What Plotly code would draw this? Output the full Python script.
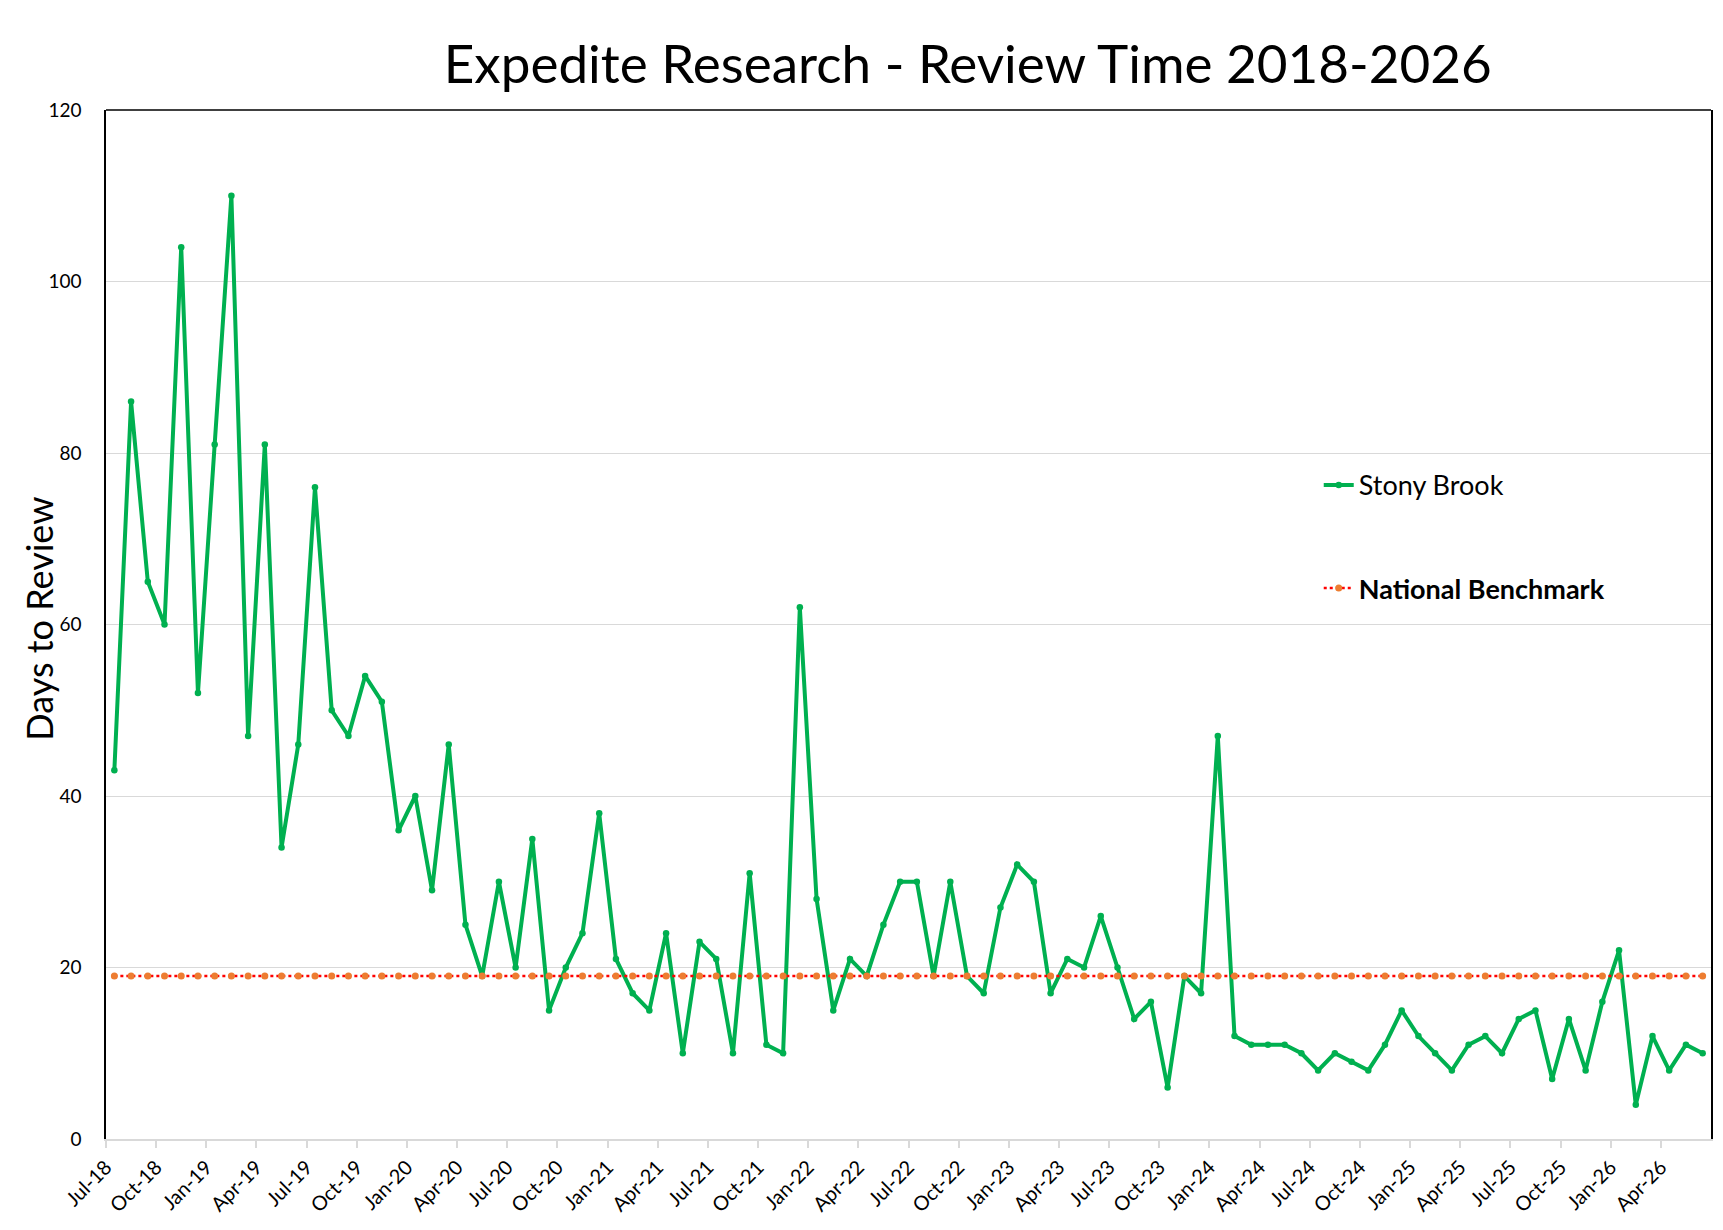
"""
Expedite Research review time chart, 2018-2026.
Monthly days-to-review for Stony Brook against the national benchmark.
"""

import pandas as pd
import plotly.graph_objects as go

# Month categories, Jul-18 .. Jun-26
MONTHS = list(pd.date_range('2018-07-01', '2026-06-01', freq='MS').strftime('%b-%y'))

STONY_BROOK = [
    43, 86, 65, 60, 104, 52, 81, 110, 47, 81, 34, 46,
    76, 50, 47, 54, 51, 36, 40, 29, 46, 25, 19, 30,
    20, 35, 15, 20, 24, 38, 21, 17, 15, 24, 10, 23,
    21, 10, 31, 11, 10, 62, 28, 15, 21, 19, 25, 30,
    30, 19, 30, 19, 17, 27, 32, 30, 17, 21, 20, 26,
    20, 14, 16, 6, 19, 17, 47, 12, 11, 11, 11, 10,
    8, 10, 9, 8, 11, 15, 12, 10, 8, 11, 12, 10,
    14, 15, 7, 14, 8, 16, 22, 4, 12, 8, 11, 10,
]

NATIONAL_BENCHMARK = [
    19, 19, 19, 19, 19, 19, 19, 19, 19, 19, 19, 19,
    19, 19, 19, 19, 19, 19, 19, 19, 19, 19, 19, 19,
    19, 19, 19, 19, 19, 19, 19, 19, 19, 19, 19, 19,
    19, 19, 19, 19, 19, 19, 19, 19, 19, 19, 19, 19,
    19, 19, 19, 19, 19, 19, 19, 19, 19, 19, 19, 19,
    19, 19, 19, 19, 19, 19, 19, 19, 19, 19, 19, 19,
    19, 19, 19, 19, 19, 19, 19, 19, 19, 19, 19, 19,
    19, 19, 19, 19, 19, 19, 19, 19, 19, 19, 19, 19,
]

# x labels every quarter, sitting on the category boundaries
TICK_LABELS = MONTHS[::3]
TICK_POS = [i - 0.5 for i in range(0, len(MONTHS), 3)]
Y_TICKS = [0, 20, 40, 60, 80, 100, 120]

COLORS = {
    'stony': '#00B050',
    'bench_line': '#FF0000',
    'bench_marker': '#ED7D31',
    'grid': '#D9D9D9',
    'text': '#000000',
}
FONT = 'Lato'

fig = go.Figure()

fig.add_trace(go.Scatter(
    x=MONTHS, y=STONY_BROOK,
    mode='lines+markers',
    name='Stony Brook',
    legendgroup='a',
    line=dict(color=COLORS['stony'], width=4),
    marker=dict(color=COLORS['stony'], size=6.5),
))

fig.add_trace(go.Scatter(
    x=MONTHS, y=NATIONAL_BENCHMARK,
    mode='lines+markers',
    name='<b>National Benchmark</b>',
    legendgroup='b',
    line=dict(color=COLORS['bench_line'], width=2.5, dash='dot'),
    marker=dict(color=COLORS['bench_marker'], size=7),
))

fig.update_layout(
    width=1723, height=1230,
    margin=dict(l=98, r=20, t=102, b=99),
    plot_bgcolor='white',
    paper_bgcolor='white',
    font=dict(family=FONT, color=COLORS['text'], size=19),
    title=dict(
        text='Expedite Research - Review Time 2018-2026',
        font=dict(family=FONT, size=53, color=COLORS['text']),
        xref='container', x=0.557, xanchor='center',
        yref='container', y=0.954, yanchor='middle',
    ),
    xaxis=dict(
        type='category',
        range=[-0.5, len(MONTHS) - 0.5],
        tickmode='array', tickvals=TICK_POS, ticktext=TICK_LABELS,
        tickangle=-45,
        ticks='outside', ticklen=7, tickcolor=COLORS['grid'], tickwidth=1.5,
        showline=True, linecolor=COLORS['grid'], linewidth=1.5,
        showgrid=False, zeroline=False,
        tickfont=dict(size=20),
    ),
    yaxis=dict(
        range=[0, 120],
        tickmode='array', tickvals=Y_TICKS,
        showgrid=True, gridcolor=COLORS['grid'], gridwidth=1.2,
        showline=True, linecolor='black', linewidth=1.5, mirror=True,
        ticks='', zeroline=False,
        ticklabelstandoff=19,
        tickfont=dict(size=19),
    ),
    legend=dict(
        x=0.7556, y=0.659, xanchor='left', yanchor='top',
        font=dict(size=27),
        tracegroupgap=65,
        bgcolor='rgba(0,0,0,0)',
    ),
    showlegend=True,
    shapes=[dict(
        type='line', xref='paper', yref='paper',
        x0=0, x1=1, y0=1, y1=1,
        line=dict(color='black', width=1.5),
    )],
    annotations=[dict(
        text='Days to Review',
        xref='paper', yref='paper',
        x=-0.0415, y=0.506, xanchor='center', yanchor='middle',
        textangle=-90, showarrow=False,
        font=dict(family=FONT, size=36, color=COLORS['text']),
    )],
)

fig.write_html("out.html")
